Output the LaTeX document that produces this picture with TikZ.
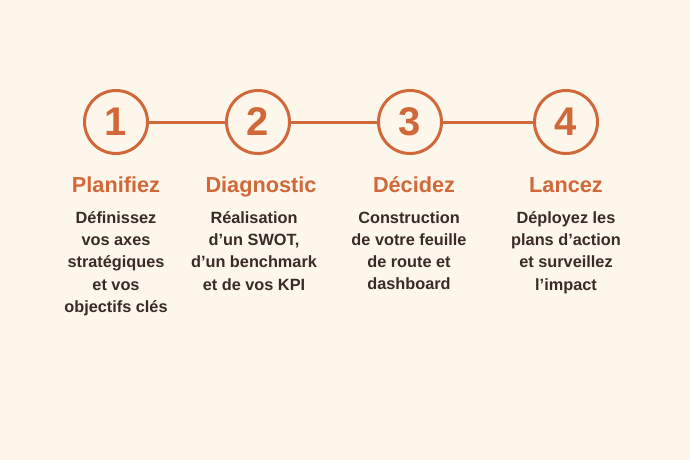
\documentclass[tikz,border=0pt]{standalone}
\usepackage{fontspec}
\setmainfont{Liberation Sans}
\usepackage{xcolor}
\usepackage{tikz}
\definecolor{rust}{HTML}{D0683A}
\definecolor{ink}{HTML}{3A2B24}
\definecolor{cream}{HTML}{FDF6EA}
\tikzset{
  stepnum/.style={circle, draw=rust, line width=3pt, minimum size=63pt, inner sep=0pt, text=rust, font=\bfseries\fontsize{40}{40}\selectfont},
  steptitle/.style={text=rust, anchor=base, inner sep=0pt, font=\bfseries\fontsize{21.7}{21.7}\selectfont},
  stepbody/.style={text=ink, anchor=north, inner sep=0pt, align=center, font=\bfseries\fontsize{16.3}{22.3}\selectfont}
}

\begin{document}
\begin{tikzpicture}[x=1pt, y=-1pt]
            \fill [cream] (0, 0) rectangle (690, 460);
            \node (1) at (116, 122) [stepnum] {1};
            \node (2) at (258, 122) [stepnum] {2};
            \node (3) at (410, 122) [stepnum] {3};
            \node (4) at (566, 122) [stepnum] {4};
            \draw [rust, line width=3pt] (1) edge (2);
            \draw [rust, line width=3pt] (2) edge (3);
            \draw [rust, line width=3pt] (3) edge (4);
            \node (t1) at (116, 192) [steptitle] {Planifiez};
            \node (t2) at (261, 192) [steptitle] {Diagnostic};
            \node (t3) at (414, 192) [steptitle] {Décidez};
            \node (t4) at (566, 192) [steptitle] {Lancez};
            \node (b1) at (116, 211) [stepbody] {Définissez\\vos axes\\stratégiques\\et vos\\objectifs clés};
            \node (b2) at (254, 211) [stepbody] {Réalisation\\d’un SWOT,\\d’un benchmark\\et de vos KPI};
            \node (b3) at (409, 211) [stepbody] {Construction\\de votre feuille\\de route et\\dashboard};
            \node (b4) at (566, 211) [stepbody] {Déployez les\\plans d’action\\et surveillez\\l’impact};
        \end{tikzpicture}
\end{document}
